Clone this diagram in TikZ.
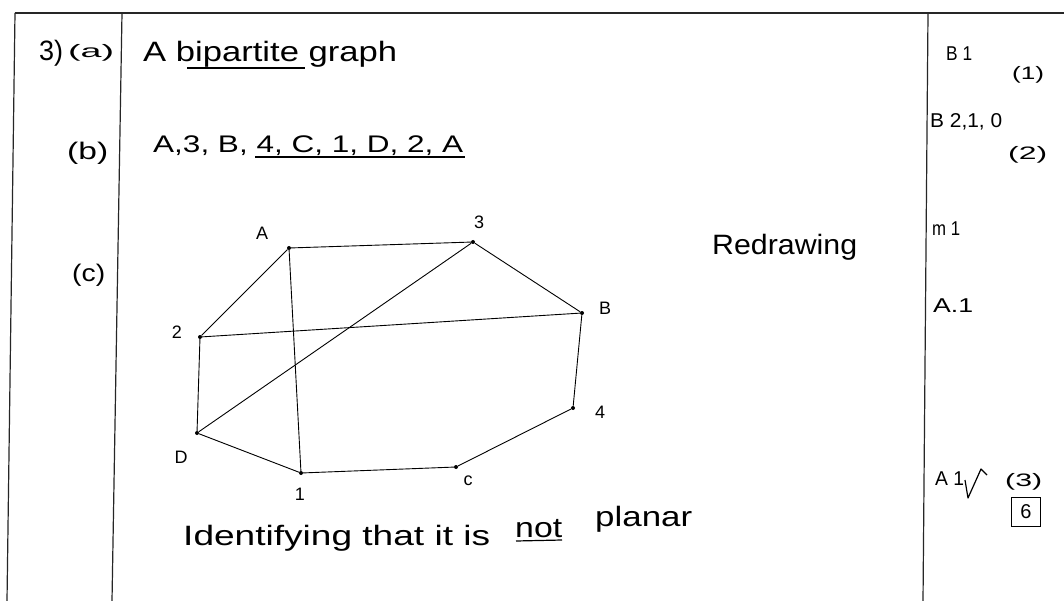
\documentclass[tikz,border=0pt]{standalone}
\usepackage{fontspec}
\setmainfont{Liberation Sans}
\usepackage{graphicx}
\newcommand\hw[2]{\resizebox{#1}{\height}{#2}}
\begin{document}
\begin{tikzpicture}[x=1pt,y=-1pt,
  rule/.style={line width=1.2pt, black!85},
  edge/.style={line width=0.9pt},
  vtx/.style={circle, fill=black, inner sep=0pt, minimum size=4pt},
  vlabel/.style={font=\fontsize{18}{18}\selectfont, inner sep=0pt},
  txt/.style={inner sep=0pt, anchor=base west, font=\fontsize{28}{32}\selectfont},
  mtxt/.style={inner sep=0pt, anchor=base west, font=\fontsize{24}{28}\selectfont},
  mk/.style={inner sep=0pt, anchor=base west, font=\fontsize{20}{24}\selectfont},
  smk/.style={inner sep=0pt, anchor=base west, font=\fontsize{18}{22}\selectfont},
  uline/.style={line width=1.2pt}
]
\useasboundingbox[fill=white] (0,0) rectangle (1064,601);

% table rules
\coordinate (tl) at (15,13);
\coordinate (tr) at (1064,13);
\coordinate (bl) at (7,601);
\coordinate (tm) at (122,13);
\coordinate (bm) at (112,601);
\coordinate (tk) at (928,13);
\coordinate (bk) at (923,601);
\draw[rule] (tl) -- (tr);
\draw[rule] (tl) -- (bl);
\draw[rule] (tm) -- (bm);
\draw[rule] (tk) -- (bk);

% left column
\node[txt] (q3) at (39,61) {\hw{24pt}{3)}};
\node[smk] (pa) at (68,58) {\hw{46pt}{(a)}};
\node[mtxt] (pb) at (67,160) {\hw{41pt}{(b)}};
\node[mtxt] (pc) at (72,282) {\hw{33pt}{(c)}};

% answers
\node[txt] (ansa) at (143,62) {\hw{254pt}{A bipartite graph}};
\coordinate (ua1) at (187,68); \coordinate (ua2) at (305,68);
\draw[uline] (ua1) -- (ua2);

\node[mtxt] (ansb) at (153,153) {\hw{310pt}{A,3, B, 4, C, 1, D, 2, A}};
\coordinate (ub1) at (255,157); \coordinate (ub2) at (465,157);
\draw[uline] (ub1) -- (ub2);

\node[txt] (redraw) at (712,255) {\hw{145pt}{Redrawing}};

% graph
\node[vtx] (A) at (289,248) {};
\node[vtx] (v3) at (473,242) {};
\node[vtx] (B) at (582,313) {};
\node[vtx] (v2) at (200,337) {};
\node[vtx] (D) at (197,433) {};
\node[vtx] (v1) at (301,473) {};
\node[vtx] (C) at (456,467) {};
\node[vtx] (v4) at (573,408) {};

\draw[edge] (A) -- (v3);
\draw[edge] (A) -- (v2);
\draw[edge] (A) -- (v1);
\draw[edge] (v3) -- (B);
\draw[edge] (v3) -- (D);
\draw[edge] (v2) -- (B);
\draw[edge] (v2) -- (D);
\draw[edge] (D) -- (v1);
\draw[edge] (v1) -- (C);
\draw[edge] (C) -- (v4);
\draw[edge] (v4) -- (B);

\node[vlabel] (lA) at (262,233) {A};
\node[vlabel] (l3) at (479,222) {3};
\node[vlabel] (lB) at (605,308) {B};
\node[vlabel] (l2) at (177,332) {2};
\node[vlabel] (lD) at (181,457) {D};
\node[vlabel] (l1) at (300,494) {1};
\node[vlabel] (lC) at (468,481) {c};
\node[vlabel] (l4) at (600,412) {4};

% conclusion
\node[txt] (ident) at (183,545) {\hw{307pt}{Identifying that it is}};
\node[txt] (notw) at (515,537) {\hw{47pt}{not}};
\coordinate (un1) at (516,541); \coordinate (un2) at (562,540);
\draw[uline] (un1) -- (un2);
\node[txt] (plan) at (595,526) {\hw{97pt}{planar}};

% marks column
\node[mk] (m1) at (946,61) {\hw{26pt}{B 1}};
\node[smk] (m1b) at (1012,80) {\hw{32pt}{(1)}};
\node[mk] (m2) at (930,128) {\hw{72pt}{B 2,1, 0}};
\node[smk] (m2b) at (1008,160) {\hw{39pt}{(2)}};
\node[mk] (m3) at (932,236) {\hw{28pt}{m 1}};
\node[mk] (m4) at (933,312) {\hw{40pt}{A.1}};
\node[mk] (m5) at (935,485) {\hw{29pt}{A 1}};
\coordinate (t1) at (965,480);
\coordinate (t2) at (968,498);
\coordinate (t3) at (981,469);
\coordinate (t4) at (987,475);
\draw[line width=1.2pt, line join=round] (t1) -- (t2) -- (t3) -- (t4);
\node[smk] (m5b) at (1005,486) {\hw{37pt}{(3)}};
\node[draw, line width=1.2pt, minimum size=29pt, inner sep=0pt,
      font=\fontsize{20}{24}\selectfont] (tot) at (1026,512) {6};
\end{tikzpicture}
\end{document}
